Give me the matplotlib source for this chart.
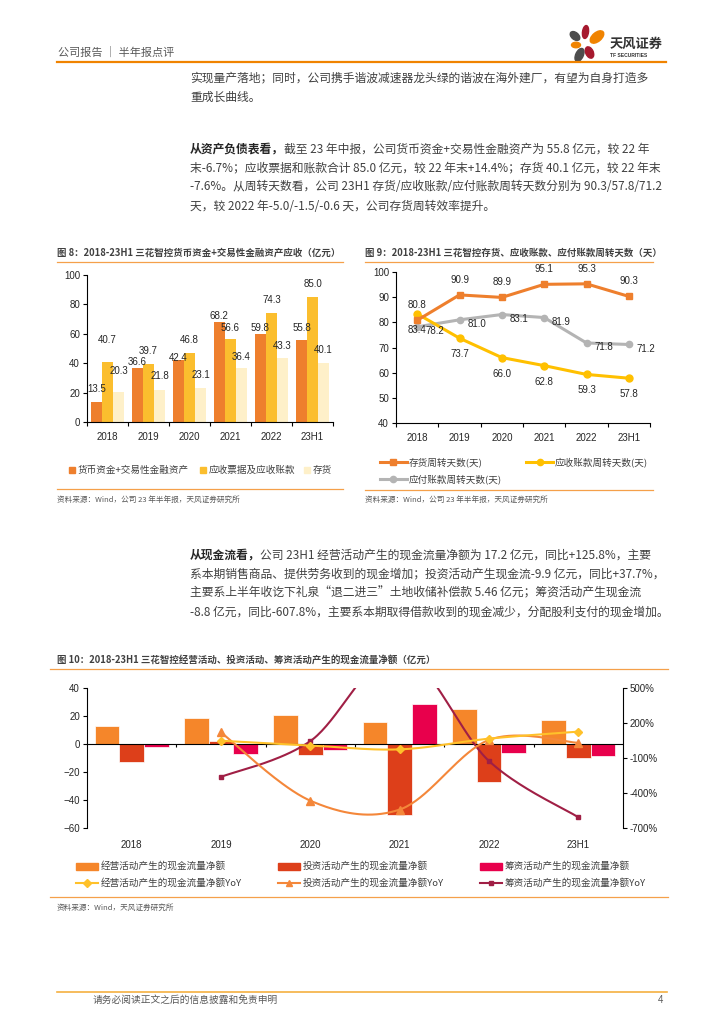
import matplotlib
matplotlib.use('Agg')
import matplotlib.pyplot as plt
from matplotlib.patches import Ellipse, Rectangle
from matplotlib.lines import Line2D
import numpy as np

W, H = 724, 1024
plt.rcParams['font.family'] = ['Noto Sans CJK SC', 'DejaVu Sans']
NUM_FONT = ['Liberation Sans', 'DejaVu Sans']

years = ['2018', '2019', '2020', '2021', '2022', '23H1']

# 图8 (亿元)
cash = [13.5, 36.6, 42.4, 68.2, 59.8, 55.8]
receivable = [40.7, 39.7, 46.8, 56.6, 74.3, 85.0]
inventory = [20.3, 21.8, 23.1, 36.4, 43.3, 40.1]

# 图9 (天)
inv_days = [80.8, 90.9, 89.9, 95.1, 95.3, 90.3]
rec_days = [83.4, 73.7, 66.0, 62.8, 59.3, 57.8]
pay_days = [78.2, 81.0, 83.1, 81.9, 71.8, 71.2]

# 图10 (亿元, YoY %)
op_cf = [12.9, 18.8, 20.7, 15.5, 25.0, 17.2]
inv_cf = [-12.6, 2.1, -7.9, -50.7, -26.9, -9.9]
fin_cf = [-1.9, -7.4, -4.0, 28.3, -6.2, -8.8]
op_yoy = [48, 7, -26, 66, 126]
inv_yoy = [119, -466, -542, 55, 30]
fin_yoy = [-262, 45, 800, -126, -608]

# label offsets for fig 8 (value units above bar top), layout only
lab_off8 = [[8.8, 4.3, 0.8, 3.8, 4.1, 8.1],
            [15.0, 8.5, 8.9, 7.2, 8.7, 9.0],
            [14.2, 9.3, 8.7, 7.9, 8.7, 8.8]]

TXT = '#404040'
GRAY = '#595959'
ORANGE_LINE = '#F5A04A'
BODY = 8.5

fig = plt.figure(figsize=(W / 100, H / 100), dpi=100)


def fx(px):
    return px / W


def fy(py):
    return 1 - py / H


def txt(x, y, s, size, color=TXT, weight='normal', ha='left', family=None):
    kw = {}
    if family:
        kw['family'] = family
    return fig.text(fx(x), fy(y), s, fontsize=size, color=color,
                    fontweight=weight, ha=ha, va='center', **kw)


def hline(x0, x1, y, color, lw):
    fig.add_artist(Line2D([fx(x0), fx(x1)], [fy(y), fy(y)], color=color,
                          lw=lw, transform=fig.transFigure))


def para(x, y0, lines, lead=None, step=19):
    renderer = fig.canvas.get_renderer()
    for i, line in enumerate(lines):
        y = y0 + i * step
        xx = x
        if i == 0 and lead:
            t = txt(x, y, lead, BODY, color='#262626', weight='bold')
            xx = x + t.get_window_extent(renderer).width
        txt(xx, y, line, BODY)


def smooth(xs, ys, n=40):
    # excel-like smoothed line (bezier, 1/6 tangents)
    px = np.concatenate([[xs[0]], xs, [xs[-1]]]).astype(float)
    py = np.concatenate([[ys[0]], ys, [ys[-1]]]).astype(float)
    t = np.linspace(0, 1, n)[:, None]
    out = []
    for i in range(1, len(px) - 2):
        p0 = np.array([px[i - 1], py[i - 1]])
        p1 = np.array([px[i], py[i]])
        p2 = np.array([px[i + 1], py[i + 1]])
        p3 = np.array([px[i + 2], py[i + 2]])
        c1 = p1 + (p2 - p0) / 6
        c2 = p2 - (p3 - p1) / 6
        seg = ((1 - t) ** 3) * p1 + 3 * ((1 - t) ** 2) * t * c1 + 3 * (1 - t) * t ** 2 * c2 + t ** 3 * p2
        out.append(seg)
    out = np.vstack(out)
    return out[:, 0], out[:, 1]


def style_axis(ax, boundary_ticks=True):
    for s in ['top', 'right']:
        ax.spines[s].set_visible(False)
    for s in ['left', 'bottom']:
        ax.spines[s].set_color('#000000')
        ax.spines[s].set_linewidth(0.8)
    ax.tick_params(axis='y', direction='out', length=3, width=0.8, labelsize=7,
                   labelcolor='#262626', pad=2)
    ax.tick_params(axis='x', which='major', length=0, labelsize=7,
                   labelcolor='#262626', pad=7)
    if boundary_ticks:
        ax.set_xticks(np.arange(-0.5, 6, 1), minor=True)
        ax.tick_params(axis='x', which='minor', direction='out', length=3, width=0.8)
    for lab in ax.get_xticklabels() + ax.get_yticklabels():
        lab.set_family(NUM_FONT)


# ---------------- header ----------------
txt(58, 52, '公司报告 ｜ 半年报点评', 8, color=GRAY)
hline(57, 666, 62, '#F08300', 1.6)

logo = fig.add_axes([fx(566), fy(64), 42 / W, 42 / H])
logo.set_xlim(0, 42)
logo.set_ylim(0, 42)
logo.axis('off')
petals = [((19.5, 32), 6, 13, -8, '#A6192E'),
          ((31, 27), 16, 9, 40, '#F08300'),
          ((9, 28), 11, 7, -40, '#4D4D4D'),
          ((10, 19), 9, 5.5, 0, '#F08300'),
          ((13.5, 9), 14, 7.5, 65, '#4D4D4D'),
          ((23.5, 11.5), 12, 7.5, -65, '#A6192E')]
for c, w, h, a, col in petals:
    logo.add_patch(Ellipse(c, w, h, angle=a, color=col))
txt(610, 44, '天风证券', 9.5, color='#333333', weight='bold')
txt(610, 55.5, 'TF SECURITIES', 3.6, color='#333333', weight='bold', family=NUM_FONT)

# ---------------- body text ----------------
para(190, 78, ['实现量产落地；同时，公司携手谐波减速器龙头绿的谐波在海外建厂，有望为自身打造多',
               '重成长曲线。'])
para(190, 149, ['截至 23 年中报，公司货币资金+交易性金融资产为 55.8 亿元，较 22 年',
                '末-6.7%；应收票据和账款合计 85.0 亿元，较 22 年末+14.4%；存货 40.1 亿元，较 22 年末',
                '-7.6%。从周转天数看，公司 23H1 存货/应收账款/应付账款周转天数分别为 90.3/57.8/71.2',
                '天，较 2022 年-5.0/-1.5/-0.6 天，公司存货周转效率提升。'],
     lead='从资产负债表看，')
para(190, 555, ['公司 23H1 经营活动产生的现金流量净额为 17.2 亿元，同比+125.8%，主要',
                '系本期销售商品、提供劳务收到的现金增加；投资活动产生现金流-9.9 亿元，同比+37.7%，',
                '主要系上半年收讫下礼泉“退二进三”土地收储补偿款 5.46 亿元；筹资活动产生现金流',
                '-8.8 亿元，同比-607.8%，主要系本期取得借款收到的现金减少，分配股利支付的现金增加。'],
     lead='从现金流看，')

# ---------------- 图8 ----------------
txt(57, 253, '图 8：2018-23H1 三花智控货币资金+交易性金融资产应收（亿元）', 6.8, weight='bold')
hline(57, 343, 262, ORANGE_LINE, 0.9)
hline(57, 343, 489, ORANGE_LINE, 0.9)
txt(57, 500, '资料来源：Wind，公司 23 年半年报，天风证券研究所', 5.5, color=GRAY)

ax8 = fig.add_axes([fx(87), fy(422), 246 / W, (422 - 275) / H])
x = np.arange(len(years))
bw = 0.27
cols8 = ['#EE7F2D', '#FBBE2E', '#FEF0C9']
for k, (vals, col) in enumerate(zip([cash, receivable, inventory], cols8)):
    xs = x + (k - 1) * bw
    ax8.bar(xs, vals, bw, color=col, zorder=2)
    for j, v in enumerate(vals):
        ax8.text(xs[j], v + lab_off8[k][j], f'{v:.1f}', ha='center', va='center',
                 fontsize=7, color='#262626', family=NUM_FONT, zorder=3)
ax8.set_xlim(-0.5, 5.5)
ax8.set_ylim(0, 100)
ax8.set_yticks(range(0, 101, 20))
ax8.set_xticks(x)
ax8.set_xticklabels(years)
style_axis(ax8)

leg8 = [(69, cols8[0], '货币资金+交易性金融资产'), (200, cols8[1], '应收票据及应收账款'),
        (304, cols8[2], '存货')]
for lx, col, lab in leg8:
    fig.add_artist(Rectangle((fx(lx), fy(473)), 6 / W, 6 / H, color=col,
                             transform=fig.transFigure))
    txt(lx + 8.5, 470, lab, 6.9)

# ---------------- 图9 ----------------
txt(365, 253, '图 9：2018-23H1 三花智控存货、应收账款、应付账款周转天数（天）', 6.8, weight='bold')
hline(365, 653, 262, ORANGE_LINE, 0.9)
hline(365, 653, 490, ORANGE_LINE, 0.9)
txt(365, 500, '资料来源：Wind，公司 23 年半年报，天风证券研究所', 5.5, color=GRAY)

ax9 = fig.add_axes([fx(396), fy(423), 254 / W, (423 - 272) / H])
c_inv, c_rec, c_pay = '#EE7F2D', '#FFC000', '#B4B4B4'
ax9.plot(x, pay_days, color=c_pay, lw=2.2, marker='o', ms=4.5, zorder=2)
ax9.plot(x, rec_days, color=c_rec, lw=2.2, marker='o', ms=5, zorder=3)
ax9.plot(x, inv_days, color=c_inv, lw=2.2, marker='s', ms=5, zorder=4)
for j in range(len(years)):
    ax9.annotate(f'{inv_days[j]:.1f}', (x[j], inv_days[j]), xytext=(0, 11),
                 textcoords='offset points', ha='center', va='center', fontsize=7,
                 color='#262626', family=NUM_FONT)
    ax9.annotate(f'{rec_days[j]:.1f}', (x[j], rec_days[j]), xytext=(0, -11.5),
                 textcoords='offset points', ha='center', va='center', fontsize=7,
                 color='#262626', family=NUM_FONT)
    ax9.annotate(f'{pay_days[j]:.1f}', (x[j], pay_days[j]), xytext=(12.5, -3),
                 textcoords='offset points', ha='center', va='center', fontsize=7,
                 color='#262626', family=NUM_FONT)
ax9.set_xlim(-0.5, 5.5)
ax9.set_ylim(40, 100)
ax9.set_yticks(range(40, 101, 10))
ax9.set_xticks(x)
ax9.set_xticklabels(years)
style_axis(ax9)

leg9 = [(380, 462, c_inv, 's', '存货周转天数(天)'), (526, 462, c_rec, 'o', '应收账款周转天数(天)'),
        (380, 479, c_pay, 'o', '应付账款周转天数(天)')]
for lx, ly, col, mk, lab in leg9:
    fig.add_artist(Line2D([fx(lx), fx(lx + 27)], [fy(ly), fy(ly)], color=col, lw=2.2,
                          transform=fig.transFigure))
    fig.add_artist(Line2D([fx(lx + 13.5)], [fy(ly)], color=col, marker=mk, ms=4.5,
                          transform=fig.transFigure))
    txt(lx + 29, ly, lab, 6.9)

# ---------------- 图10 ----------------
txt(57, 660, '图 10：2018-23H1 三花智控经营活动、投资活动、筹资活动产生的现金流量净额（亿元）', 6.8,
    weight='bold')
hline(50, 668, 669, ORANGE_LINE, 0.9)
hline(50, 668, 897, ORANGE_LINE, 0.9)
txt(57, 908, '资料来源：Wind，天风证券研究所', 5.5, color=GRAY)

ax10 = fig.add_axes([fx(87), fy(828), 536 / W, 140 / H])
c_op, c_ic, c_fc = '#F5862A', '#DD3F1A', '#E8004C'
c_opy, c_icy, c_fcy = '#FFC12A', '#F4873A', '#A01F45'
bw = 0.277
for k, (vals, col) in enumerate(zip([op_cf, inv_cf, fin_cf], [c_op, c_ic, c_fc])):
    ax10.bar(x + (k - 1) * bw, vals, bw, color=col, edgecolor='white', lw=0.5, zorder=2)
ax10.axhline(0, color='#000000', lw=0.8, zorder=3)
ax10.vlines(np.arange(0.5, 5.5, 1), -2, 0, color='#000000', lw=0.8, zorder=3)
ax10.set_xlim(-0.5, 5.5)
ax10.set_ylim(-60, 40)
ax10.set_yticks(range(-60, 41, 20))
ax10.set_xticks(x)
ax10.set_xticklabels(years)
style_axis(ax10, boundary_ticks=False)
ax10.spines['bottom'].set_visible(False)
ax10.tick_params(axis='x', pad=9)

ax10r = ax10.twinx()
ax10r.set_xlim(-0.5, 5.5)
ax10r.set_ylim(-700, 500)
ax10r.set_yticks([500, 200, -100, -400, -700])
ax10r.set_yticklabels([f'{v}%' for v in [500, 200, -100, -400, -700]])
for s in ['top', 'left', 'bottom']:
    ax10r.spines[s].set_visible(False)
ax10r.spines['right'].set_linewidth(0.8)
ax10r.tick_params(axis='y', direction='out', length=3, width=0.8, labelsize=7,
                  labelcolor='#262626', pad=2)
for lab in ax10r.get_yticklabels():
    lab.set_family(NUM_FONT)

xy = x[1:]
for vals, col, mk, ms in [(fin_yoy, c_fcy, 's', 3), (inv_yoy, c_icy, '^', 5.5),
                          (op_yoy, c_opy, 'D', 4.5)]:
    sx, sy = smooth(xy, vals)
    ax10r.plot(sx, sy, color=col, lw=1.5, zorder=4)
    ax10r.plot(xy, vals, ls='none', marker=mk, ms=ms, color=col, zorder=5)

leg10 = [(76, c_op, '经营活动产生的现金流量净额'), (278, c_ic, '投资活动产生的现金流量净额'),
         (480, c_fc, '筹资活动产生的现金流量净额')]
for lx, col, lab in leg10:
    fig.add_artist(Rectangle((fx(lx), fy(869.5)), 22 / W, 7 / H, color=col,
                             transform=fig.transFigure))
    txt(lx + 25, 866, lab, 6.9)
leg10b = [(76, c_opy, 'D', 4, '经营活动产生的现金流量净额YoY'),
          (278, c_icy, '^', 5, '投资活动产生的现金流量净额YoY'),
          (480, c_fcy, 's', 3, '筹资活动产生的现金流量净额YoY')]
for lx, col, mk, ms, lab in leg10b:
    fig.add_artist(Line2D([fx(lx), fx(lx + 22)], [fy(883), fy(883)], color=col, lw=1.5,
                          transform=fig.transFigure))
    fig.add_artist(Line2D([fx(lx + 11)], [fy(883)], color=col, marker=mk, ms=ms,
                          transform=fig.transFigure))
    txt(lx + 25, 883, lab, 6.9)

# ---------------- footer ----------------
hline(57, 667, 992, '#F5B041', 1.2)
txt(93, 1000, '请务必阅读正文之后的信息披露和免责申明', 7, color=GRAY)
txt(663, 1000, '4', 7, color=GRAY, ha='right', family=NUM_FONT)

fig.savefig('out.png', dpi=100)
